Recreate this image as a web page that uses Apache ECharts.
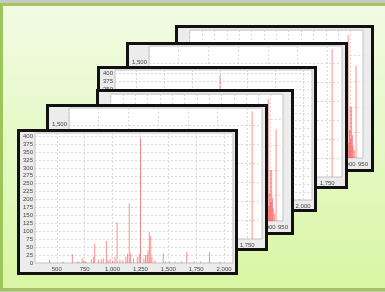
<!DOCTYPE html>
<html>
<head>
<meta charset="utf-8">
<script src="https://cdn.jsdelivr.net/npm/echarts@6/dist/echarts.min.js"></script>
<style>
html, body { margin: 0; padding: 0; width: 385px; height: 292px; overflow: hidden; background: #c8c8c8; }
#stage {
  position: absolute; left: 0; top: 3px; width: 382px; height: 282px;
  border-top: 3px solid #a6c562; border-left: 3px solid #9cc55a; border-bottom: 3px solid #a2c35e;
  background: linear-gradient(#f2fbe4, #d8f6a4);
}
.card { position: absolute; box-sizing: border-box; border: 3px solid #111; background: #e6e6e6; }
.card .ch { position: absolute; left: 0; top: 0; right: 0; bottom: 0; }
</style>
</head>
<body>
<div id="stage"></div>
<script>
// spectrum shown on the front card (and the third card)
var wideMass = [436, 560, 640, 683, 700, 728, 742, 760, 812, 830, 840, 873, 899, 917, 945, 960, 978, 1000,
  1022, 1041, 1066, 1092, 1120, 1135, 1150, 1162, 1188, 1222, 1240, 1251, 1281, 1295, 1310, 1318, 1330,
  1342, 1353, 1380, 1455, 1476, 1511, 1560, 1616, 1665, 1730, 1790, 1869, 1965];
var wideInt = [10, 3, 28, 5, 4, 15, 8, 5, 12, 20, 61, 10, 12, 15, 69, 8, 12, 6,
  20, 129, 10, 8, 20, 30, 188, 30, 15, 20, 28, 393, 15, 25, 25, 40, 98,
  85, 20, 8, 30, 5, 5, 4, 5, 35, 5, 5, 35, 3];
var wideTicks = [500, 750, 1000, 1250, 1500, 1750, 2000];

// spectrum with the single tall peak (2nd and 5th card)
var tallMass = [1792];
var tallInt = [1677];

// narrow zoomed spectrum (back card and 4th card)
var zoomMass = [872, 876, 880, 884, 887, 890, 893, 896, 898, 901, 904, 907, 910, 915, 922];
var zoomInt = [8, 14, 6, 18, 10, 96, 12, 22, 40, 15, 40, 18, 10, 6, 72];

function fmt(v) {
  return v.toLocaleString('en-US');
}

function pairs(m, v) {
  return m.map(function (x, i) { return [x, v[i]]; });
}

var gridLine = { show: true, lineStyle: { color: '#d8d8d8', type: [2, 2], width: 1 } };
var lbl = { fontSize: 6, color: '#444', fontFamily: 'Liberation Sans', formatter: fmt };

var kinds = {
  wide: {
    grid: { left: 10, right: 2, top: 1, bottom: 9 },
    x: { min: 305, max: 2080, axisLabel: Object.assign({}, lbl, { margin: 3, customValues: wideTicks }),
         axisTick: { show: false, customValues: wideTicks } },
    y: { min: 0, max: 410, interval: 25, axisLabel: Object.assign({}, lbl, { margin: 2, showMaxLabel: false }) },
    data: pairs(wideMass, wideInt)
  },
  tall: {
    grid: { left: 13, right: 3, top: 1, bottom: 9 },
    x: { min: 250, max: 1875, interval: 250, axisLabel: Object.assign({}, lbl, { margin: 3, interval: 0, showMaxLabel: false }),
         axisTick: { show: false } },
    y: { min: 0, max: 1720, interval: 250, axisLabel: Object.assign({}, lbl, { margin: 2, showMaxLabel: false }) },
    data: pairs(tallMass, tallInt)
  },
  zoom: {
    grid: { left: 7, right: 3, top: 2, bottom: 11 },
    x: { min: 250, max: 950, interval: 50, axisLabel: Object.assign({}, lbl, { margin: 3, interval: 0 }),
         axisTick: { show: false } },
    y: { min: 0, max: 100, interval: 20, axisLabel: Object.assign({}, lbl, { margin: 2, showMaxLabel: false }) },
    data: pairs(zoomMass, zoomInt)
  }
};

// back to front
var cards = [
  { l: 175, t: 25, w: 199, h: 147, kind: 'zoom' },
  { l: 126, t: 42, w: 222, h: 147, kind: 'tall' },
  { l: 97, t: 66, w: 220, h: 146, kind: 'wide' },
  { l: 96, t: 89, w: 198, h: 146, kind: 'zoom' },
  { l: 46, t: 104, w: 222, h: 147, kind: 'tall' },
  { l: 17, t: 129, w: 221, h: 146, kind: 'wide' }
];

function makeOption(k) {
  return {
    animation: false,
    backgroundColor: '#ececec',
    grid: Object.assign({ show: true, backgroundColor: '#fff', borderColor: '#c2c2c2', borderWidth: 1 }, k.grid),
    xAxis: Object.assign({
      type: 'value',
      axisLine: { show: false },
      splitLine: gridLine
    }, k.x),
    yAxis: Object.assign({
      type: 'value',
      axisLine: { show: false },
      axisTick: { show: false },
      splitLine: gridLine
    }, k.y),
    series: [{
      type: 'bar',
      silent: true,
      barWidth: 1,
      itemStyle: { color: 'rgba(255, 50, 50, 0.55)' },
      data: k.data
    }]
  };
}

cards.forEach(function (c) {
  var card = document.createElement('div');
  card.className = 'card';
  card.style.left = c.l + 'px';
  card.style.top = c.t + 'px';
  card.style.width = c.w + 'px';
  card.style.height = c.h + 'px';
  var el = document.createElement('div');
  el.className = 'ch';
  card.appendChild(el);
  document.body.appendChild(card);
  var chart = echarts.init(el, null, { renderer: 'canvas' });
  chart.setOption(makeOption(kinds[c.kind]));
});
</script>
</body>
</html>
